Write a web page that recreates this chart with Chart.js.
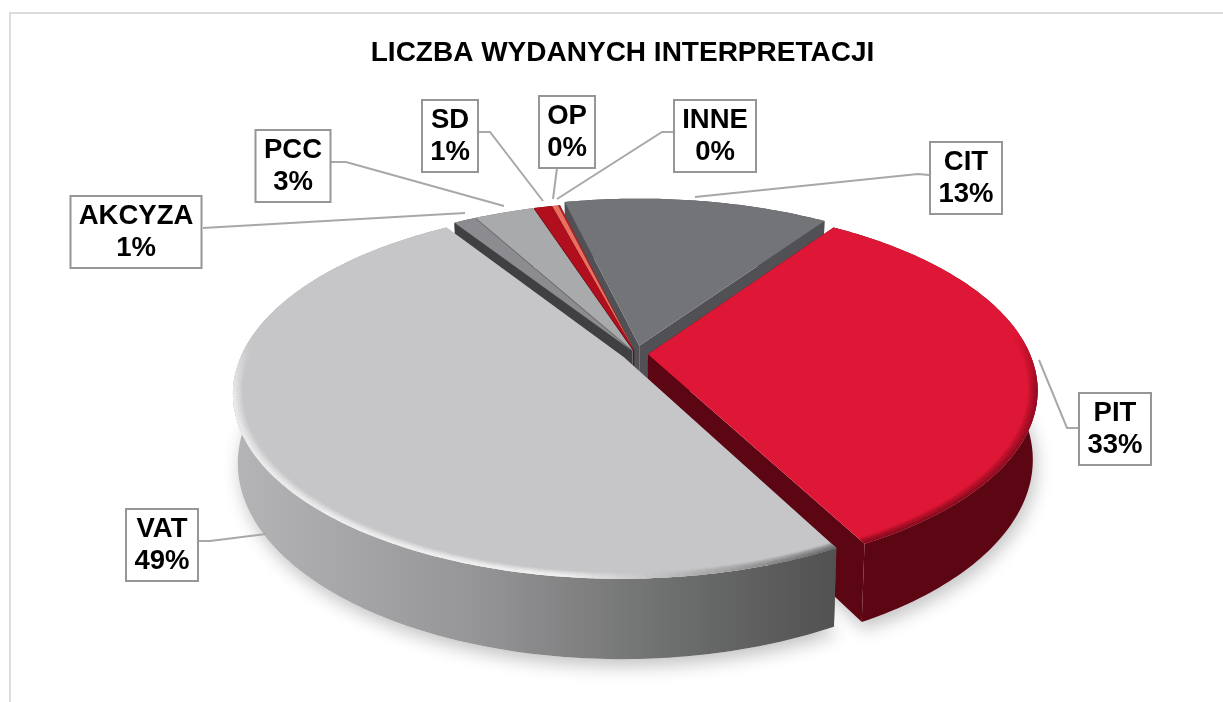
<!DOCTYPE html>
<html lang="pl">
<head>
<meta charset="utf-8">
<title>Liczba wydanych interpretacji</title>
<script src="https://cdn.jsdelivr.net/npm/chart.js@4/dist/chart.umd.min.js"></script>
<style>
  html, body { margin: 0; background: #fff; overflow: hidden; }
  #frame { position: absolute; left: 9px; top: 12px; right: 0; bottom: 0; border-left: 2px solid #dcdcdc; border-top: 2px solid #dcdcdc; }
  canvas { position: absolute; left: 0; top: 0; }
</style>
</head>
<body>
<div id="frame"></div>
<canvas id="chart" width="1223" height="702"></canvas>
<script>
// Data (share of interpretations, %)
const categories = ['PIT', 'VAT', 'AKCYZA', 'PCC', 'SD', 'OP', 'INNE', 'CIT'];
const shares = [32.7, 48.6, 1.1, 3, 0.9, 0.3, 0.1, 13.3];

// Slice styles
const topColors = ['#df1736', '#c6c6c8', '#8c8c90', '#a9aaac', '#b10f1d', '#e8705f', '#b3202c', '#737478'];
const sideColors = ['#5c0614', '#8a8a8c', '#404042', '#6e6e70', '#6e0a12', '#8a2a22', '#3c3c3e', '#515155'];
const sliceOffsets = [12, 14, 8, 8, 8, 8, 8, 18];

// Callout boxes: centre of each box, and the leader line from the box to its slice
const boxCentres = [[1115, 429], [162, 545], [136, 232], [293, 166], [450, 136], [567, 132], [715, 136], [966, 178]];
const leaders = [
  [[1079, 428], [1067, 428], [1039, 360]],
  [[198, 541], [210, 541], [266, 534]],
  [[203, 228], [465, 213]],
  [[331, 162], [346, 162], [504, 206]],
  [[478, 132], [490, 132], [543, 201]],
  [[557, 168], [553, 199]],
  [[674, 132], [662, 132], [557, 199]],
  [[929, 175], [918, 174], [695, 197]]
];

// Perspective of the pie plane
const apexX = 636, apexY = 354;
const squash = 178 / 382;   // vertical radius / horizontal radius
const tilt = 0.19;          // nearer edge looks bigger
const depth = 67;           // thickness of the pie
const taper = 0.012;        // bottom face is a bit smaller

function project(el, angle, r, z) {
  const R = el.outerRadius;
  const mid = (el.startAngle + el.endAngle) / 2;
  const off = el.options.offset / R;
  const u = r * Math.cos(angle) + off * Math.cos(mid);
  const v = r * Math.sin(angle) + off * Math.sin(mid);
  const w = 1 - tilt * v;
  const s = 1 - taper * z;
  return [apexX + R * u / w * s, apexY + (R * squash * v * s + depth * z) / w];
}

function rimPoints(el, r, z, reverse) {
  const pts = [];
  const steps = Math.max(2, Math.ceil((el.endAngle - el.startAngle) * 60));
  for (let i = 0; i <= steps; i++) {
    const t = reverse ? 1 - i / steps : i / steps;
    pts.push(project(el, el.startAngle + (el.endAngle - el.startAngle) * t, r, z));
  }
  return pts;
}

function fillPoly(ctx, pts, style) {
  ctx.beginPath();
  pts.forEach((p, i) => i ? ctx.lineTo(p[0], p[1]) : ctx.moveTo(p[0], p[1]));
  ctx.closePath();
  ctx.fillStyle = style;
  ctx.fill();
}

function mix(a, b, t) {
  return a.map((c, i) => Math.round(c + (b[i] - c) * t));
}

// Soft rim along the near edge of the two big slices
function drawBevel(ctx, el, index) {
  const rings = 9;
  for (let k = 0; k < rings; k++) {
    const pts = rimPoints(el, 1 - k * 0.0028, 0, false);
    ctx.lineWidth = 1.6;
    for (let i = 1; i < pts.length; i++) {
      const a = el.startAngle + (el.endAngle - el.startAngle) * i / (pts.length - 1);
      const front = Math.min(1, Math.max(0, (Math.sin(a) + 0.1) / 0.3));
      let rgb;
      if (index === 0) {
        rgb = [120, 10, 28];
      } else {
        const t = Math.min(1, Math.max(0, (pts[i][0] - 560) / 270));
        rgb = mix([245, 245, 246], [95, 95, 97], t);
      }
      const alpha = front * (1 - k / rings) * (index === 0 ? 0.7 : 0.8);
      ctx.strokeStyle = `rgba(${rgb[0]},${rgb[1]},${rgb[2]},${alpha})`;
      ctx.beginPath();
      ctx.moveTo(pts[i - 1][0], pts[i - 1][1]);
      ctx.lineTo(pts[i][0], pts[i][1]);
      ctx.stroke();
    }
  }
}

// Draws the arcs Chart.js laid out as an extruded pie
const pie3d = {
  id: 'pie3d',
  beforeDatasetDraw() {
    return false;
  },
  afterDatasetsDraw(chart) {
    const ctx = chart.ctx;
    const arcs = chart.getDatasetMeta(0).data;
    const order = arcs.map((el, i) => i).sort((a, b) =>
      Math.sin((arcs[a].startAngle + arcs[a].endAngle) / 2) - Math.sin((arcs[b].startAngle + arcs[b].endAngle) / 2));

    // shadow on the ground
    ctx.save();
    ctx.shadowColor = 'rgba(0,0,0,0.24)';
    ctx.shadowBlur = 18;
    ctx.shadowOffsetY = 7;
    ctx.shadowOffsetX = 3;
    order.forEach(i => {
      fillPoly(ctx, [project(arcs[i], 0, 0, 1)].concat(rimPoints(arcs[i], 1, 1, false)), '#fff');
    });
    ctx.restore();

    order.forEach(i => {
      const el = arcs[i];
      let side = sideColors[i];
      if (i === 1) {
        side = ctx.createLinearGradient(240, 0, 832, 0);
        side.addColorStop(0, '#b4b4b6');
        side.addColorStop(0.4, '#959597');
        side.addColorStop(0.75, '#6b6c6c');
        side.addColorStop(1, '#525253');
      }
      const apexTop = project(el, 0, 0, 0);
      const apexBottom = project(el, 0, 0, 1);
      fillPoly(ctx, [apexTop, project(el, el.startAngle, 1, 0), project(el, el.startAngle, 1, 1), apexBottom], side);
      fillPoly(ctx, [apexTop, project(el, el.endAngle, 1, 0), project(el, el.endAngle, 1, 1), apexBottom], side);
      fillPoly(ctx, rimPoints(el, 1, 0, false).concat(rimPoints(el, 1, 1, true)), side);

      const top = [apexTop].concat(rimPoints(el, 1, 0, false));
      fillPoly(ctx, top, topColors[i]);
      if (i < 2) {
        ctx.save();
        ctx.beginPath();
        top.forEach((p, n) => n ? ctx.lineTo(p[0], p[1]) : ctx.moveTo(p[0], p[1]));
        ctx.closePath();
        ctx.clip();
        drawBevel(ctx, el, i);
        ctx.restore();
      }
    });

    // callouts
    const total = shares.reduce((a, b) => a + b, 0);
    ctx.save();
    ctx.strokeStyle = '#a8a8a8';
    ctx.lineWidth = 2;
    leaders.forEach(line => {
      ctx.beginPath();
      line.forEach((p, n) => n ? ctx.lineTo(p[0], p[1]) : ctx.moveTo(p[0], p[1]));
      ctx.stroke();
    });
    ctx.font = 'bold 27.5px "Liberation Sans", Arial, sans-serif';
    ctx.textAlign = 'center';
    ctx.textBaseline = 'middle';
    categories.forEach((name, i) => {
      const pct = Math.round(shares[i] / total * 100) + '%';
      const w = Math.ceil(Math.max(ctx.measureText(name).width, ctx.measureText(pct).width)) + 16;
      const [x, y] = boxCentres[i];
      ctx.fillStyle = '#fff';
      ctx.fillRect(x - w / 2, y - 36, w, 72);
      ctx.strokeStyle = '#969696';
      ctx.lineWidth = 2;
      ctx.strokeRect(x - w / 2, y - 36, w, 72);
      ctx.fillStyle = '#000';
      ctx.fillText(name, x, y - 16);
      ctx.fillText(pct, x, y + 16);
    });
    ctx.restore();
  }
};

new Chart(document.getElementById('chart'), {
  type: 'pie',
  data: {
    labels: categories,
    datasets: [{
      data: shares,
      backgroundColor: topColors,
      offset: sliceOffsets,
      borderWidth: 0
    }]
  },
  options: {
    responsive: false,
    animation: false,
    rotation: 34.5,
    radius: 382,
    layout: { padding: { left: 22 } },
    plugins: {
      legend: { display: false },
      tooltip: { enabled: false },
      title: {
        display: true,
        text: 'LICZBA WYDANYCH INTERPRETACJI',
        color: '#000',
        align: 'center',
        font: { family: '"Liberation Sans", Arial, sans-serif', size: 28, weight: 'bold' },
        padding: { top: 36, bottom: 10 }
      }
    }
  },
  plugins: [pie3d]
});
</script>
</body>
</html>
